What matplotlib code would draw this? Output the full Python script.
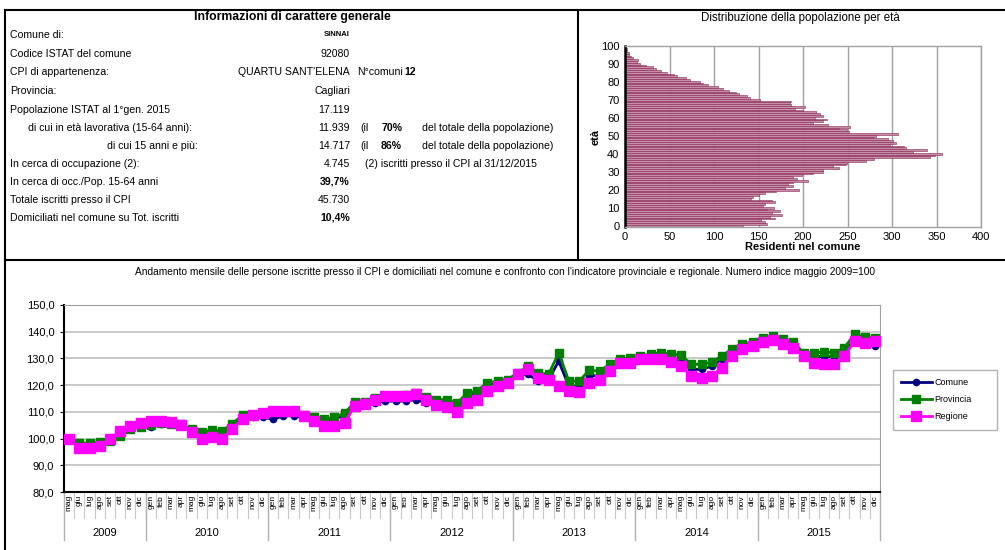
import numpy as np
import matplotlib
matplotlib.use("Agg")
import matplotlib.pyplot as plt
from matplotlib.lines import Line2D
import matplotlib.transforms as mtransforms

plt.rcParams['font.family'] = ['Liberation Sans', 'DejaVu Sans']

W, H = 1005, 550

# ---------------- data ----------------
info_labels = ["Comune di:", "Codice ISTAT del comune", "CPI di appartenenza:", "Provincia:",
               "Popolazione ISTAT al 1°gen. 2015", "di cui in età lavorativa (15-64 anni):",
               "di cui 15 anni e più:", "In cerca di occupazione (2):",
               "In cerca di occ./Pop. 15-64 anni", "Totale iscritti presso il CPI",
               "Domiciliati nel comune su Tot. iscritti"]
info_values = ["SINNAI", "92080", "QUARTU SANT'ELENA", "Cagliari", "17.119", "11.939",
               "14.717", "4.745", "39,7%", "45.730", "10,4%"]
n_comuni = "12"
pct_lavorativa = "70%"
pct_15piu = "86%"

ages = list(range(0, 101))
residenti = [133, 160, 157, 153, 168, 163, 176, 165, 174, 160,
             167, 155, 157, 168, 165, 142, 144, 150, 157, 170,
             195, 180, 189, 183, 189, 206, 193, 189, 199, 211,
             222, 223, 240, 234, 248, 249, 271, 280, 343, 348,
             356, 324, 339, 316, 313, 298, 305, 301, 296, 279,
             282, 307, 252, 249, 240, 253, 228, 211, 222, 227,
             214, 223, 219, 215, 200, 191, 202, 186, 185, 187,
             152, 141, 137, 128, 125, 117, 110, 105, 93, 88,
             84, 73, 68, 58, 55, 47, 40, 35, 32, 24,
             17, 13, 15, 9, 7, 5, 4, 2, 2, 1, 1]

months_2009 = ["mag", "giu", "lug", "ago", "set", "ott", "nov", "dic"]
months_year = ["gen", "feb", "mar", "apr", "mag", "giu", "lug", "ago", "set", "ott", "nov", "dic"]
years = ["2009", "2010", "2011", "2012", "2013", "2014", "2015"]
month_labels = months_2009 + months_year * 6

comune = [100, 97.5, 97.8, 98.3, 99, 101, 103.5, 104.5, 104.5, 105.5,
          105.5, 105, 103, 102, 102.5, 102.5, 105, 107.5, 108, 108,
          107.2, 108.5, 108.5, 108, 107.5, 106.8, 107.2, 109, 112, 112.5,
          113.5, 114, 114, 114, 114.5, 113.5, 113.5, 113.5, 112.5, 115.5,
          117.2, 120.2, 120.9, 121.5, 124, 124, 121.5, 122, 129, 119.6,
          119.6, 123.5, 123.5, 127.1, 128.9, 128.9, 129.8, 130.6, 130.1, 129.3,
          128.6, 125.9, 125.9, 127.1, 129.8, 132.7, 134.6, 135.6, 136.5, 137.4,
          136.1, 134.9, 131.2, 130.9, 130.6, 130.6, 132.7, 136.9, 136.1, 134.6]
provincia = [100, 98.3, 98.3, 98.8, 99, 100.9, 103.4, 104.4, 104.9, 105.9,
             105.6, 105.3, 103.4, 102.4, 103.2, 102.8, 105.6, 108.7, 108.7, 109.1,
             109.8, 110, 109.8, 108.7, 107.9, 107.2, 107.9, 109.5, 113.6, 113.8,
             115, 116, 116, 116.3, 117.2, 115.6, 114.6, 114.6, 113.2, 116.9,
             117.8, 120.9, 121.5, 122.1, 124.6, 127.1, 124.6, 124, 132.1, 121.5,
             121.5, 125.6, 125.2, 127.8, 129.8, 130.1, 130.9, 131.6, 132.1, 131.6,
             131.2, 127.8, 127.8, 128.6, 130.9, 133.6, 135.3, 136.1, 137.8, 138.4,
             137.4, 136.1, 132.1, 132.1, 132.4, 132.1, 134, 139, 138.1, 137.8]
regione = [100, 96.5, 96.5, 97.1, 100, 102.8, 104.7, 105.7, 106.6, 106.6,
           106.2, 104.9, 102.4, 100, 100.6, 100, 103.4, 107.5, 108.7, 109.5,
           110.2, 110.4, 110.4, 108.6, 106.4, 104.6, 104.7, 105.8, 112.3, 112.9,
           114.4, 115.9, 115.9, 115.9, 116.7, 114.4, 112.5, 111.9, 110, 113.2,
           114.5, 117.8, 119.6, 120.9, 124, 125.9, 122.8, 122.1, 119.6, 117.8,
           117.4, 120.9, 121.8, 125.2, 128.4, 128.4, 129.6, 129.8, 129.8, 128.6,
           127.2, 123.4, 122.8, 123.4, 126.5, 130.9, 133.4, 134.6, 136.1, 136.9,
           135.3, 134, 130.9, 128.4, 127.8, 127.8, 130.9, 136.5, 135.9, 136.5]

# ---------------- figure ----------------
fig = plt.figure(figsize=(W / 100, H / 100), dpi=100)


def fx(x):
    return x / W


def fy(y):
    return 1 - y / H


# frame lines
frame_kw = dict(color="black", linewidth=1.5, transform=fig.transFigure, clip_on=False)
fig.add_artist(Line2D([fx(5), fx(1005)], [fy(10), fy(10)], **frame_kw))
fig.add_artist(Line2D([fx(5), fx(5)], [fy(10), fy(550)], **frame_kw))
fig.add_artist(Line2D([fx(578), fx(578)], [fy(10), fy(260)], **frame_kw))
fig.add_artist(Line2D([fx(5), fx(1005)], [fy(260), fy(260)], **frame_kw))

# ---------------- info table ----------------
fig.text(fx(292), fy(17), "Informazioni di carattere generale", fontsize=8.8,
         fontweight="bold", ha="center", va="center")
row_y = [35, 54, 72, 91, 110, 128, 146, 164, 182, 200, 218]
label_x = [10, 10, 10, 10, 10, 28, 107, 10, 10, 10, 10]
bold_vals = {0, 8, 10}
fs = 7.6
for i, (lab, val) in enumerate(zip(info_labels, info_values)):
    fig.text(fx(label_x[i]), fy(row_y[i]), lab, fontsize=fs, ha="left", va="center")
    if i == 0:
        fig.text(fx(350), fy(row_y[i]), val, fontsize=5.5, fontweight="bold",
                 ha="right", va="center")
    else:
        fig.text(fx(350), fy(row_y[i]), val, fontsize=fs,
                 fontweight="bold" if i in bold_vals else "normal", ha="right", va="center")

fig.text(fx(357), fy(row_y[2]), "N°comuni", fontsize=fs, ha="left", va="center")
fig.text(fx(404), fy(row_y[2]), n_comuni, fontsize=fs, fontweight="bold", ha="left", va="center")
for r, pct in ((5, pct_lavorativa), (6, pct_15piu)):
    fig.text(fx(360), fy(row_y[r]), "(il", fontsize=fs, ha="left", va="center")
    fig.text(fx(381), fy(row_y[r]), pct, fontsize=fs, fontweight="bold", ha="left", va="center")
    fig.text(fx(422), fy(row_y[r]), "del totale della popolazione)", fontsize=fs,
             ha="left", va="center")
fig.text(fx(365), fy(row_y[7]), "(2) iscritti presso il CPI al 31/12/2015", fontsize=fs,
         ha="left", va="center")

# ---------------- histogram ----------------
fig.text(fx(800), fy(18), "Distribuzione della popolazione per età", fontsize=8.3,
         ha="center", va="center")
axh = fig.add_axes([fx(625), fy(227.5), fx(981) - fx(625), fy(45.7) - fy(227.5)])
axh.barh(ages, residenti, height=0.9, color="#c48ea6", edgecolor="#8a2452", linewidth=0.4,
         zorder=2)
axh.set_xlim(0, 400)
axh.set_ylim(-1, 100)
axh.set_xticks(range(0, 401, 50))
axh.set_yticks(range(0, 101, 10))
axh.tick_params(axis="x", labelsize=8, length=0, pad=3)
axh.tick_params(axis="y", labelsize=8, length=0, pad=4)
axh.xaxis.grid(True, color="#a0a0a0", linewidth=1.0, zorder=0)
axh.set_axisbelow(True)
for s in ("top", "right", "bottom"):
    axh.spines[s].set_color("#a0a0a0")
    axh.spines[s].set_linewidth(1.0)
axh.spines["left"].set_color("black")
axh.spines["left"].set_linewidth(1.8)
axh.set_xlabel("Residenti nel comune", fontsize=8, fontweight="bold", labelpad=0.5)
axh.set_ylabel("età", fontsize=8, fontweight="bold", labelpad=0)

# ---------------- line chart ----------------
fig.text(fx(505), fy(272), "Andamento mensile delle persone iscritte presso il CPI e domiciliati nel comune "
         "e confronto con l'indicatore provinciale e regionale. Numero indice maggio 2009=100",
         fontsize=7.3, ha="center", va="center")
axl = fig.add_axes([fx(64), fy(492), fx(880) - fx(64), fy(305) - fy(492)])
x = np.arange(len(month_labels))
axl.plot(x, comune, color="#000080", linewidth=2, marker="o", markersize=4.5, label="Comune", zorder=3)
axl.plot(x, provincia, color="#008000", linewidth=2, marker="s", markersize=5.5, label="Provincia", zorder=4)
axl.plot(x, regione, color="#ff00ff", linewidth=2, marker="s", markersize=7, label="Regione", zorder=5)
axl.set_xlim(-0.5, len(month_labels) - 0.5)
axl.set_ylim(80, 150)
axl.set_yticks(range(80, 151, 10))
axl.set_yticklabels([f"{v},0" for v in range(80, 151, 10)])
axl.yaxis.grid(True, color="#c0c0c0", linewidth=1.2, zorder=0)
axl.set_axisbelow(True)
axl.tick_params(axis="y", labelsize=8, length=3, pad=4)
axl.set_xticks(x)
axl.set_xticklabels(month_labels, rotation=90, fontsize=6, va="top")
axl.tick_params(axis="x", length=0, pad=2)
for s in ("top", "right"):
    axl.spines[s].set_color("#a0a0a0")
for s in ("left", "bottom"):
    axl.spines[s].set_color("black")
    axl.spines[s].set_linewidth(1.5)

trans = mtransforms.blended_transform_factory(axl.transData, axl.transAxes)
axh_px = 187.0
for k in range(len(month_labels) + 1):
    axl.add_line(Line2D([k - 0.5, k - 0.5], [0, -26 / axh_px], color="#c8c8c8", linewidth=0.8,
                        transform=trans, clip_on=False))
year_sizes = [8] + [12] * 6
start = 0
bounds = [-0.5]
for yname, n in zip(years, year_sizes):
    end = start + n
    bounds.append(end - 0.5)
    axl.text((start + end - 1) / 2, -41 / axh_px, yname, transform=trans, fontsize=8,
             ha="center", va="center")
    start = end
for b in bounds:
    axl.add_line(Line2D([b, b], [0, -48 / axh_px], color="#b0b0b0", linewidth=1.0,
                        transform=trans, clip_on=False))

leg = fig.legend(loc="upper left",
                 bbox_to_anchor=(fx(893), fy(427), fx(997) - fx(893), fy(370) - fy(427)),
                 mode="expand", borderaxespad=0, fontsize=6.5,
                 frameon=True, fancybox=False, edgecolor="#a0a0a0", handlelength=3.4,
                 borderpad=0.9, labelspacing=0.9, handletextpad=0.3)
leg.get_frame().set_linewidth(1.0)

fig.savefig("out.png", dpi=100)
